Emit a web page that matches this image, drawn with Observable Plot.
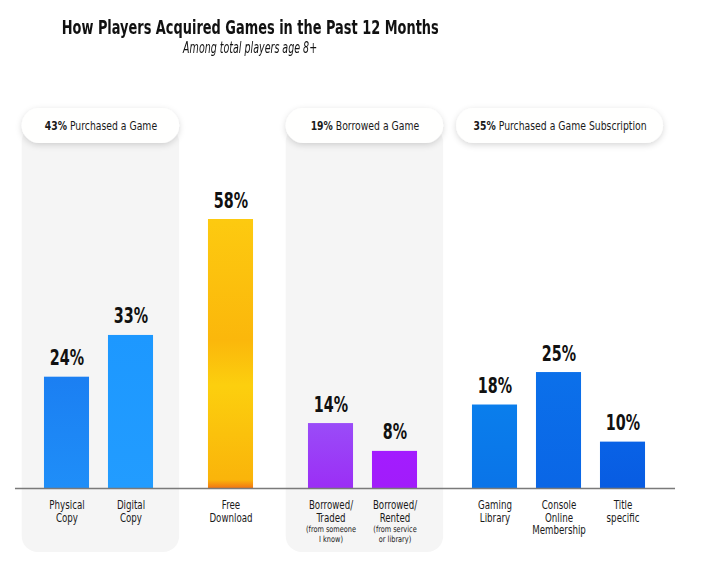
<!DOCTYPE html>
<html>
<head>
<meta charset="utf-8">
<script src="https://cdn.jsdelivr.net/npm/d3@7"></script>
<script src="https://cdn.jsdelivr.net/npm/@observablehq/plot@0.6"></script>
<style>
  html, body { margin: 0; padding: 0; background: #fff; }
  body { width: 720px; height: 561px; overflow: hidden; font-family: "DejaVu Sans Condensed", "Liberation Sans Narrow", sans-serif; color: #111; }
  #hdr { position: relative; height: 60px; }
  #title, #sub { position: absolute; left: 0; width: 500px; display: flex; justify-content: center; white-space: nowrap; }
  #title { top: 17px; font-size: 20px; line-height: 20px; font-weight: bold; }
  #sub { top: 41px; font-size: 15px; line-height: 14px; font-style: italic; }
  #title span, #sub span { display: inline-block; transform-origin: center; flex: none; }
  #chart svg { display: block; }
</style>
</head>
<body>
<div id="hdr">
  <div id="title"><span>How Players Acquired Games in the Past 12 Months</span></div>
  <div id="sub"><span>Among total players age 8+</span></div>
</div>
<div id="chart"></div>
<script>
// ---- data ----
const categories = ["Physical Copy", "Digital Copy", "Free Download", "Borrowed/ Traded", "Borrowed/ Rented", "Gaming Library", "Console Online Membership", "Title specific"];
const values = [24, 33, 58, 14, 8, 18, 25, 10];
const groups = ["Purchased", "Purchased", "Free", "Borrowed", "Borrowed", "Subscription", "Subscription", "Subscription"];
const labelLines = [["Physical", "Copy"], ["Digital", "Copy"], ["Free", "Download"], ["Borrowed/", "Traded"], ["Borrowed/", "Rented"], ["Gaming", "Library"], ["Console", "Online", "Membership"], ["Title", "specific"]];
const notes = ["", "", "", "(from someone\nI know)", "(from service\nor library)", "", "", ""];
const groupKeys = ["Purchased", "Borrowed", "Subscription"];
const groupNames = ["Purchased a Game", "Borrowed a Game", "Purchased a Game Subscription"];
const groupShares = [43, 19, 35];

// ---- styles / layout ----
const FONT = '"DejaVu Sans Condensed", "Liberation Sans Narrow", sans-serif';
const groupOrder = ["Purchased", "Free", "Borrowed", "Subscription"];
const GAP = 0.5625;                 // extra spacing between groups (in bar-step units)
const barFills = ["url(#gPhys)", "url(#gDig)", "url(#gFree)", "url(#gTrade)", "url(#gRent)", "url(#gLib)", "url(#gCons)", "url(#gTitle)"];
const panelShown = [true, true, false];
const pillPad = [[0.70, 0.76], [0.70, 0.76], [0.60, 0.633]];
const BASE = 428, TOP58 = 159;
const K = (BASE - TOP58) / 58;
const py = px => (BASE - px) / K;   // pixel row -> value units

// fit header text widths
function fit(sel, w) {
  const el = document.querySelector(sel);
  const cur = el.getBoundingClientRect().width;
  el.style.transform = `scaleX(${w / cur})`;
}
fit("#title span", 377);
fit("#sub span", 134);

const rows = categories.map((c, i) => ({
  cat: c,
  value: values[i],
  group: groups[i],
  pos: i + groupOrder.indexOf(groups[i]) * GAP,
  label: labelLines[i].join("\n"),
  note: notes[i],
  fill: barFills[i]
}));

const pills = groupKeys.map((g, j) => {
  const ps = rows.filter(r => r.group === g).map(r => r.pos);
  const x1 = d3.min(ps) - pillPad[j][0], x2 = d3.max(ps) + pillPad[j][1];
  return {key: g, name: groupNames[j], share: groupShares[j], x1, x2, mid: (x1 + x2) / 2, panel: panelShown[j]};
});

const plot = Plot.plot({
  width: 720,
  height: 501,
  margin: 0,
  style: {fontFamily: FONT, background: "transparent", color: "#111"},
  x: {type: "linear", domain: [0, 1], range: [66.5, 130.5], axis: null},
  y: {domain: [0, 58], range: [BASE, TOP58], axis: null},
  color: {type: "identity"},
  marks: [
    Plot.rect(pills.filter(p => p.panel), {x1: "x1", x2: "x2", y1: py(492), y2: py(66), fill: "#f5f5f5", rx: 16}),
    Plot.rect(pills, {x1: "x1", x2: "x2", y1: py(83), y2: py(48), fill: "#fffffe", rx: 17.5}),
    Plot.text(pills, {x: "mid", y: py(65.5), text: d => `${d.share}%|${d.name}`, fontSize: 12, fill: "#1a1a1a"}),
    Plot.rectY(rows, {x1: d => d.pos - 0.352, x2: d => d.pos + 0.352, y1: 0, y2: "value", fill: "fill"}),
    Plot.ruleY([0], {x1: -0.805, x2: 9.508, stroke: "#7a7a7a", strokeWidth: 1.5}),
    Plot.text(rows, {x: "pos", y: "value", text: d => `${d.value}%`, lineAnchor: "bottom", dy: -12, fontSize: 21, fontWeight: "bold", fill: "#111"}),
    Plot.text(rows, {x: "pos", y: 0, text: "label", lineAnchor: "top", dy: 11, fontSize: 11.5, lineHeight: 1.12, fill: "#1a1a1a"}),
    Plot.text(rows.filter(r => r.note), {x: "pos", y: 0, text: "note", lineAnchor: "top", dy: 37, fontSize: 8.5, lineHeight: 1.15, fill: "#1a1a1a"})
  ]
});

// gradients & shadow
const svg = d3.select(plot);
const defs = svg.insert("defs", ":first-child");
const grads = {
  gPhys: [["0%", "#1b7ff2"], ["100%", "#1f8ef8"]],
  gDig: [["0%", "#1d98ff"], ["100%", "#229cff"]],
  gFree: [["0%", "#fdca10"], ["45%", "#fbb70b"], ["62%", "#fccf0e"], ["97%", "#fab40a"], ["100%", "#f27612"]],
  gTrade: [["0%", "#9a4cf8"], ["100%", "#9b2ef5"]],
  gRent: [["0%", "#a31cff"], ["100%", "#a11cfa"]],
  gLib: [["0%", "#0a7eec"], ["100%", "#0a74e8"]],
  gCons: [["0%", "#0b70ea"], ["100%", "#0a66e6"]],
  gTitle: [["0%", "#0962e6"], ["100%", "#085ce2"]]
};
for (const [id, stops] of Object.entries(grads)) {
  const lg = defs.append("linearGradient").attr("id", id).attr("x1", 0).attr("y1", 0).attr("x2", 0).attr("y2", 1);
  for (const [o, c] of stops) lg.append("stop").attr("offset", o).attr("stop-color", c);
}
const sh = defs.append("filter").attr("id", "pillShadow").attr("x", "-20%").attr("y", "-60%").attr("width", "140%").attr("height", "220%");
sh.append("feDropShadow").attr("dx", 0).attr("dy", 2).attr("stdDeviation", 3).attr("flood-color", "#000").attr("flood-opacity", 0.16);
svg.selectAll('[fill="#fffffe"]').attr("filter", "url(#pillShadow)");

// horizontal condensing of text (keeps text as text)
function condense(t, sx) {
  const tr = t.attr("transform") || "";
  t.attr("transform", `${tr} scale(${sx},1)`);
}
svg.selectAll("text").each(function () {
  const t = d3.select(this);
  const s = t.text();
  if (s.includes("|")) {
    const [a, b] = s.split("|");
    t.text(null);
    t.append("tspan").attr("font-weight", "bold").text(a);
    t.append("tspan").text(" " + b);
    condense(t, 0.86);
  } else if (/^\d+%$/.test(s)) {
    condense(t, 0.76);
  } else if (s.startsWith("(from")) {
    condense(t, 0.86);
  } else {
    condense(t, 0.84);
  }
});

document.getElementById("chart").append(plot);
</script>
</body>
</html>
